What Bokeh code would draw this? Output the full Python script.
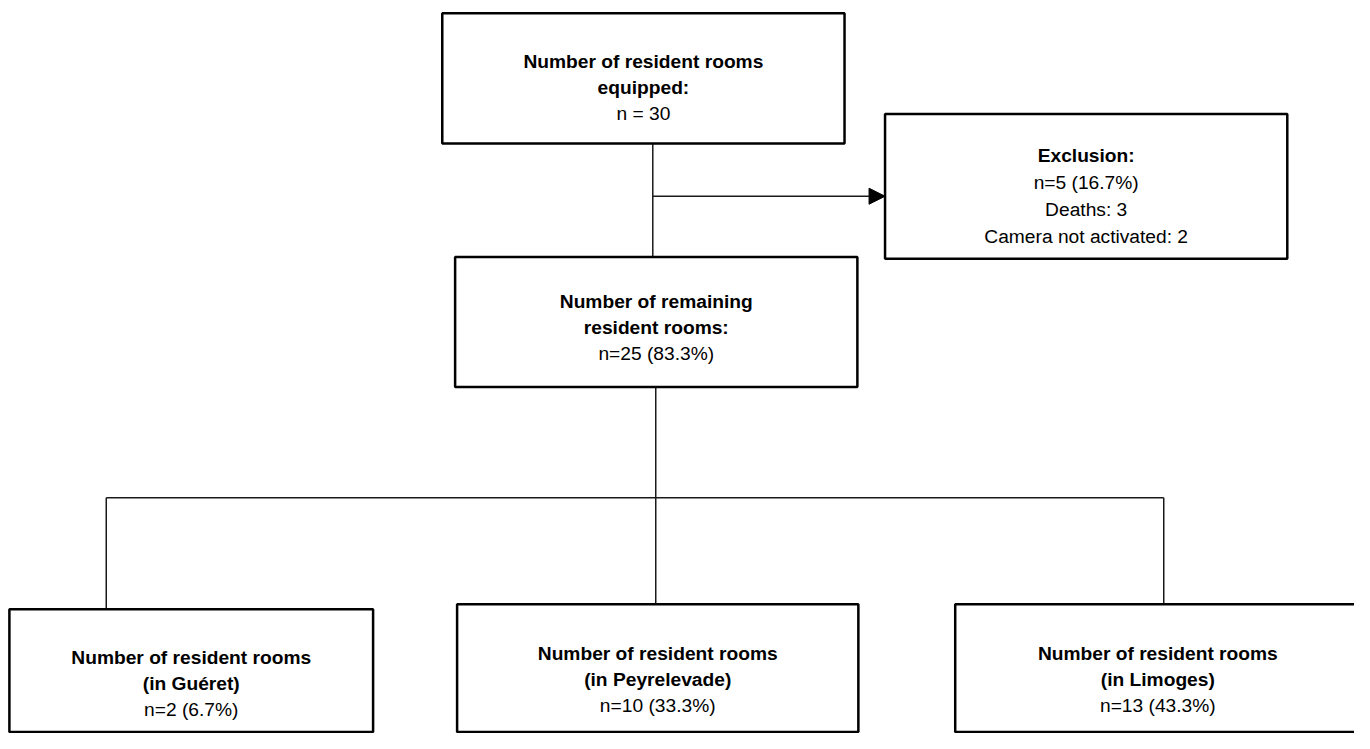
from bokeh.plotting import figure
from bokeh.models import Range1d, Arrow, NormalHead
from bokeh.core.properties import value
from bokeh.embed import file_html
from bokeh.resources import INLINE

# ---- box geometry (pixel coordinates of the reference picture) ----
box_names = ["equipped", "exclusion", "remaining", "gueret", "peyrelevade", "limoges"]
box_left = [447, 895, 460, 9, 462, 966]
box_right = [854, 1302, 867, 377, 868, 1376]
box_top = [13, 116, 262, 622, 617, 617]
box_bottom = [146, 264, 395, 747.5, 747.5, 747.5]

# ---- counts ----
n_total = 30
n_excluded = 5
n_deaths = 3
n_camera = 2
n_remaining = 25
sites = ["Guéret", "Peyrelevade", "Limoges"]
site_n = [2, 10, 13]
site_pct = [6.7, 33.3, 43.3]

# ---- labels ----
bold_text = [
    "Number of resident rooms", "equipped:",
    "Exclusion:",
    "Number of remaining", "resident rooms:",
] + [s for site in sites for s in ("Number of resident rooms", f"(in {site})")]
bold_x = [650.5, 650.5, 1098.5, 663.5, 663.5,
          193, 193, 665, 665, 1171, 1171]
bold_y = [62, 88.5, 158, 308, 334.5,
          671, 697.5, 667, 693.5, 667, 693.5]

norm_text = [
    f"n = {n_total}",
    f"n={n_excluded} ({n_excluded / n_total * 100:.1f}%)",
    f"Deaths: {n_deaths}",
    f"Camera not activated: {n_camera}",
    f"n={n_remaining} ({n_remaining / n_total * 100:.1f}%)",
] + [f"n={n} ({pc}%)" for n, pc in zip(site_n, site_pct)]
norm_x = [650.5, 1098.5, 1098.5, 1098.5, 663.5, 193, 665, 1171]
norm_y = [115, 186, 213.5, 241, 361, 724, 720, 720]

# ---- connectors ----
conn_xs = [[660, 660], [663, 663], [107, 1177], [107, 107], [663, 663], [1177, 1177]]
conn_ys = [[146, 262], [395, 508], [508, 508], [508, 622], [508, 617], [508, 617]]
arrow_start = (660, 200)
arrow_end = (895, 200)

p = figure(width=1354, height=733, output_backend="svg", toolbar_location=None,
           x_range=Range1d(0, 1370), y_range=Range1d(749, 0),
           min_border=0, min_border_left=0, min_border_right=0,
           min_border_top=0, min_border_bottom=0)
p.axis.visible = False
p.grid.visible = False
p.outline_line_color = None
p.background_fill_color = "white"
p.border_fill_color = "white"

p.multi_line(xs=conn_xs, ys=conn_ys, line_color="#1a1a1a", line_width=1.5)
p.add_layout(Arrow(end=NormalHead(size=16, fill_color="black", line_color="black"),
                   x_start=arrow_start[0], y_start=arrow_start[1],
                   x_end=arrow_end[0], y_end=arrow_end[1],
                   line_color="#1a1a1a", line_width=1.5))

p.quad(left=box_left, right=box_right, top=box_top, bottom=box_bottom,
       fill_color="white", line_color="black", line_width=2.5)

font = value("Liberation Sans")
p.text(x=bold_x, y=bold_y, text=bold_text, text_font=font, text_font_style="bold",
       text_font_size="19.2px", text_align="center", text_baseline="alphabetic",
       text_color="black")
p.text(x=norm_x, y=norm_y, text=norm_text, text_font=font, text_font_style="normal",
       text_font_size="19.2px", text_align="center", text_baseline="alphabetic",
       text_color="black")

open("out.html", "w").write(file_html(p, INLINE))
